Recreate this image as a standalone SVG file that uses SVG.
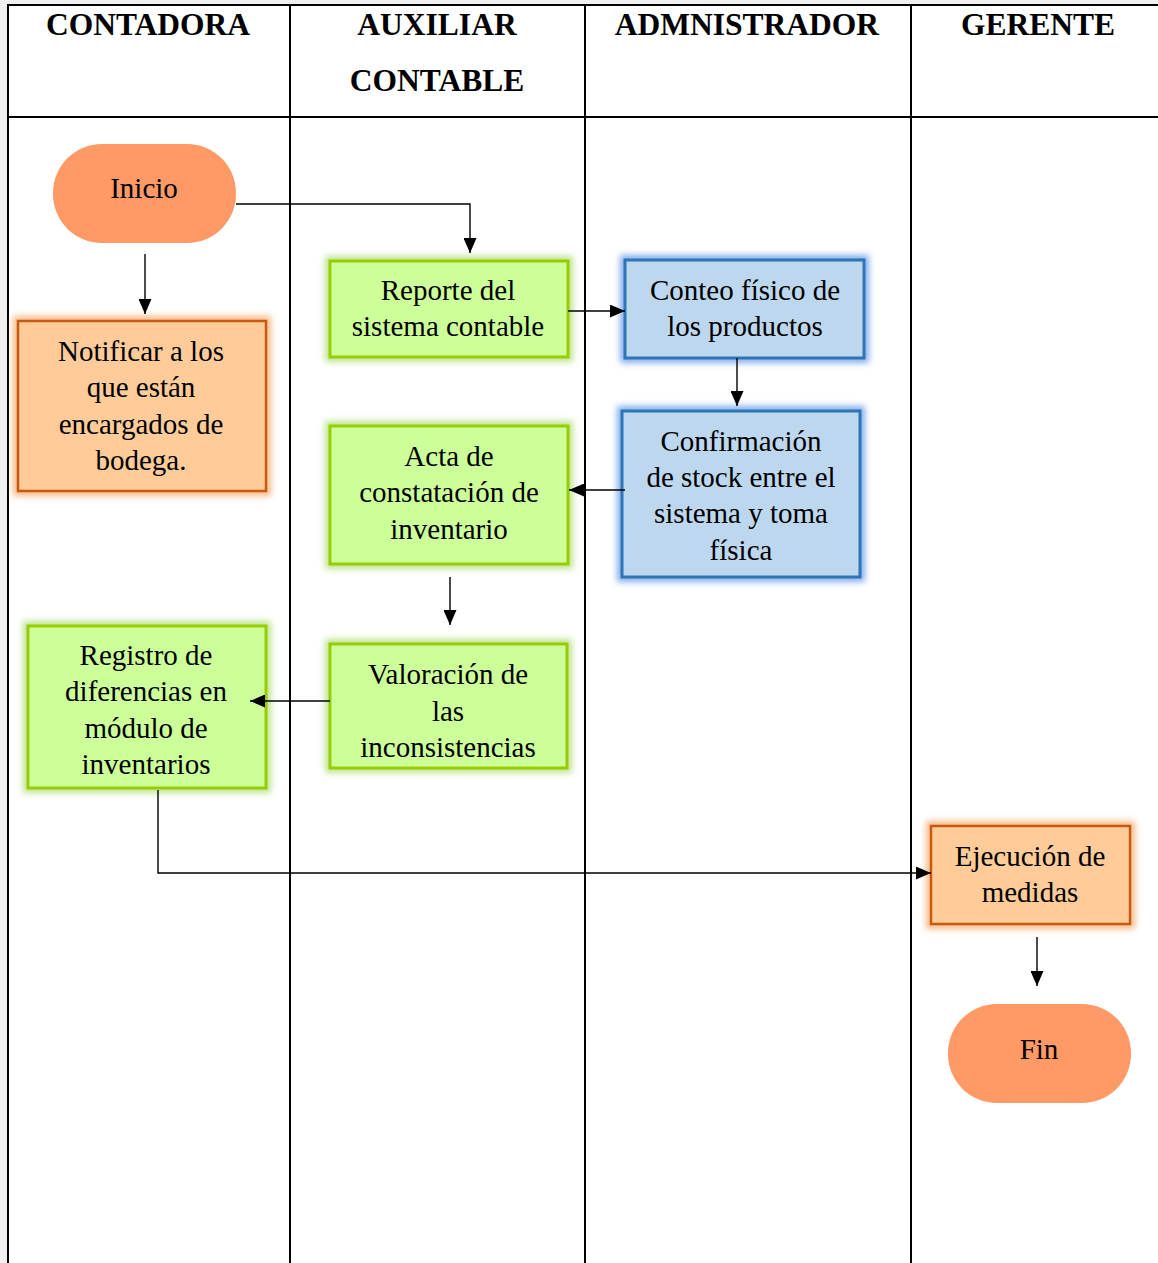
<svg xmlns="http://www.w3.org/2000/svg" width="1158" height="1263" viewBox="0 0 1158 1263">
<style>
.hdr{font-family:"Liberation Serif","Times New Roman",serif;font-weight:bold;font-size:31.5px;fill:#000;text-anchor:middle}
.t{font-family:"Liberation Serif","Times New Roman",serif;font-size:29px;fill:#000;text-anchor:middle}
.lane{stroke:#000;stroke-width:2;fill:none}
.conn{stroke:#000;stroke-width:1.4;fill:none}
.term{fill:#FF9966}
.org{fill:#FFCC99;stroke:#C55A11;stroke-width:2.5}
.grn{fill:#CCFF99;stroke:#99CC00;stroke-width:3}
.blu{fill:#BDD7EE;stroke:#2E75B6;stroke-width:3}
.gg{fill:none;stroke:#A8DC6A;stroke-width:10;opacity:0.75}
.gb{fill:none;stroke:#5B93E6;stroke-width:10;opacity:0.75}
.go{fill:none;stroke:#F5A25E;stroke-width:10;opacity:0.75}
</style>
<defs>
<filter id="blur" x="-20%" y="-20%" width="140%" height="140%"><feGaussianBlur stdDeviation="3"/></filter>
<marker id="arr" viewBox="0 0 15 13" refX="15" refY="6.5" markerWidth="15" markerHeight="13" markerUnits="userSpaceOnUse" orient="auto"><path d="M0,0 L15,6.5 L0,13 z" fill="#000"/></marker>
</defs>
<rect x="0" y="0" width="1158" height="1263" fill="#f0f0f0"/>
<rect x="8" y="5" width="1150" height="1258" fill="#fff"/>
<g id="lanes">
<line class="lane" x1="7" y1="5" x2="1158" y2="5"/>
<line class="lane" x1="8" y1="5" x2="8" y2="1263"/>
<line class="lane" x1="8" y1="117" x2="1158" y2="117"/>
<line class="lane" x1="290" y1="5" x2="290" y2="1263"/>
<line class="lane" x1="585" y1="5" x2="585" y2="1263"/>
<line class="lane" x1="911" y1="5" x2="911" y2="1263"/>
<text class="hdr" x="148" y="35">CONTADORA</text>
<text class="hdr" x="437" y="35">AUXILIAR</text>
<text class="hdr" x="437" y="91">CONTABLE</text>
<text class="hdr" x="747" y="35">ADMNISTRADOR</text>
<text class="hdr" x="1038" y="35">GERENTE</text>
</g>
<g id="inicio">
<rect class="term" x="53" y="144" width="183" height="99" rx="49" ry="49"/>
<text class="t" x="144" y="198">Inicio</text>
</g>
<g id="notificar">
<rect class="go" x="18" y="321" width="248" height="170" filter="url(#blur)"/>
<rect class="org" x="18" y="321" width="248" height="170"/>
<text class="t" x="141" y="361">Notificar a los</text>
<text class="t" x="141" y="397">que están</text>
<text class="t" x="141" y="434">encargados de</text>
<text class="t" x="141" y="470">bodega.</text>
</g>
<g id="reporte">
<rect class="gg" x="330" y="261" width="238" height="96" filter="url(#blur)"/>
<rect class="grn" x="330" y="261" width="238" height="96"/>
<text class="t" x="448" y="300">Reporte del</text>
<text class="t" x="448" y="336">sistema contable</text>
</g>
<g id="conteo">
<rect class="gb" x="625" y="260" width="239" height="98" filter="url(#blur)"/>
<rect class="blu" x="625" y="260" width="239" height="98"/>
<text class="t" x="745" y="300">Conteo físico de</text>
<text class="t" x="745" y="336">los productos</text>
</g>
<g id="confirmacion">
<rect class="gb" x="622" y="411" width="238" height="166" filter="url(#blur)"/>
<rect class="blu" x="622" y="411" width="238" height="166"/>
<text class="t" x="741" y="451">Confirmación</text>
<text class="t" x="741" y="487">de stock entre el</text>
<text class="t" x="741" y="523">sistema y toma</text>
<text class="t" x="741" y="560">física</text>
</g>
<g id="acta">
<rect class="gg" x="330" y="426" width="238" height="138" filter="url(#blur)"/>
<rect class="grn" x="330" y="426" width="238" height="138"/>
<text class="t" x="449" y="466">Acta de</text>
<text class="t" x="449" y="502">constatación de</text>
<text class="t" x="449" y="539">inventario</text>
</g>
<g id="valoracion">
<rect class="gg" x="330" y="644" width="237" height="124" filter="url(#blur)"/>
<rect class="grn" x="330" y="644" width="237" height="124"/>
<text class="t" x="448" y="684">Valoración de</text>
<text class="t" x="448" y="721">las</text>
<text class="t" x="448" y="757">inconsistencias</text>
</g>
<g id="registro">
<rect class="gg" x="28" y="626" width="238" height="162" filter="url(#blur)"/>
<rect class="grn" x="28" y="626" width="238" height="162"/>
<text class="t" x="146" y="665">Registro de</text>
<text class="t" x="146" y="701">diferencias en</text>
<text class="t" x="146" y="738">módulo de</text>
<text class="t" x="146" y="774">inventarios</text>
</g>
<g id="ejecucion">
<rect class="go" x="931" y="826" width="199" height="98" filter="url(#blur)"/>
<rect class="org" x="931" y="826" width="199" height="98"/>
<text class="t" x="1030" y="866">Ejecución de</text>
<text class="t" x="1030" y="902">medidas</text>
</g>
<g id="fin">
<rect class="term" x="948" y="1004" width="183" height="99" rx="49" ry="49"/>
<text class="t" x="1039" y="1059">Fin</text>
</g>
<g id="connectors">
<path class="conn" d="M236,204 H470 V253" marker-end="url(#arr)"/>
<path class="conn" d="M145,254 V314" marker-end="url(#arr)"/>
<path class="conn" d="M568,311 H625" marker-end="url(#arr)"/>
<path class="conn" d="M737,358 V406" marker-end="url(#arr)"/>
<path class="conn" d="M625,490 H569" marker-end="url(#arr)"/>
<path class="conn" d="M450,577 V625" marker-end="url(#arr)"/>
<path class="conn" d="M330,701 H250" marker-end="url(#arr)"/>
<path class="conn" d="M158,790 V873 H931" marker-end="url(#arr)"/>
<path class="conn" d="M1037,937 V986" marker-end="url(#arr)"/>
</g>
</svg>
